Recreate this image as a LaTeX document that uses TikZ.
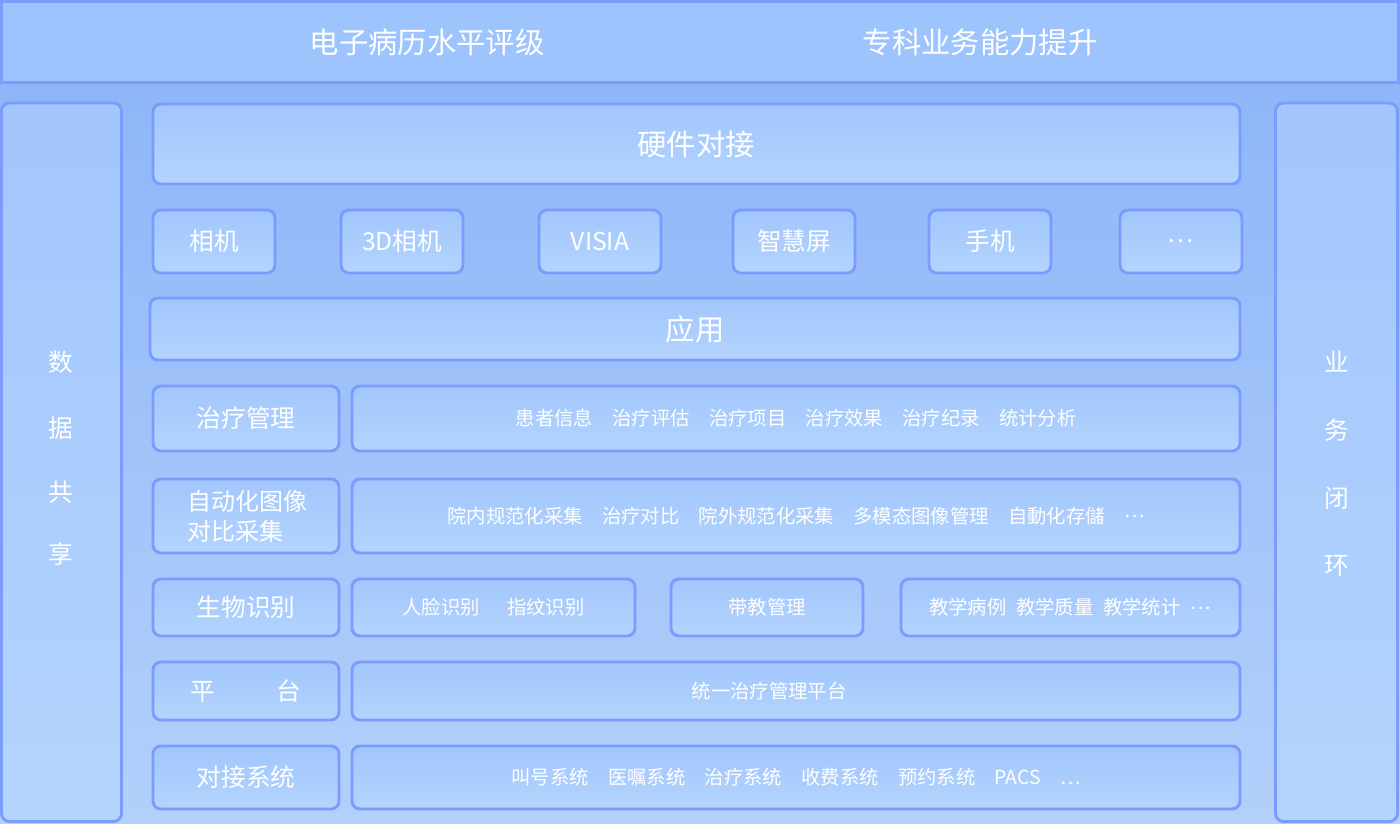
\documentclass[tikz,border=0pt]{standalone}
\usepackage{fontspec}
\setmainfont{Noto Sans CJK SC}
\definecolor{bgtop}{HTML}{8AB3F8}
\definecolor{bgbot}{HTML}{B3D0FB}
\definecolor{edgeblue}{HTML}{7B9BFD}
\definecolor{boxtop}{HTML}{A2C6FD}
\definecolor{boxbot}{HTML}{B3D4FD}
\definecolor{bannerblue}{HTML}{9EC4FD}
\newcommand{\mdots}{\raisebox{0.3em}{…}}
\begin{document}
\begin{tikzpicture}[x=0.75pt,y=-0.75pt,
    box/.style={draw=edgeblue,line width=2.2pt,rounded corners=6pt,top color=boxtop,bottom color=boxbot},
    big/.style={text=white,font=\fontsize{22}{26}\selectfont},
    mid/.style={text=white,font=\fontsize{18.5}{22}\selectfont},
    small/.style={text=white,font=\fontsize{14.5}{17}\selectfont}]

    \useasboundingbox (0,0) rectangle (1400,824);
    \fill[top color=bgtop,bottom color=bgbot] (0,0) rectangle (1400,824);

    % banner
    \draw[draw=edgeblue,line width=2.2pt,fill=bannerblue] (1.5,1.5) rectangle (1398.5,82.5);
    \node[big] (emr) at (427,42) {电子病历水平评级};
    \node[big] (spec) at (980,42) {专科业务能力提升};

    % side columns
    \draw[box] (1.5,103) rectangle (121.5,821.5);
    \draw[box] (1275.5,103) rectangle (1397.5,821.5);
    \foreach \y/\t/\n in {362/数/sa, 428/据/sb, 492/共/sc, 554/享/sd}
    \node[mid] (\n) at (61,\y) {\t};
    \foreach \y/\t/\n in {362/业/ya, 430/务/yb, 498/闭/yc, 566/环/yd}
    \node[mid] (\n) at (1337,\y) {\t};

    % hardware
    \draw[box] (153,104) rectangle (1240,184);
    \node[big] (hw) at (696,144) {硬件对接};
    \foreach \x/\t/\n in {214/相机/cam, 402/3D相机/cam3d, 600/VISIA/visia, 794/智慧屏/screen, 990/手机/phone, 1181/…/more}
    {
      \draw[box] (\x-61,210) rectangle (\x+61,273);
      \node[mid] (\n) at (\x,241.5) {\t};
    }

    % application
    \draw[box] (150,298) rectangle (1240,360);
    \node[big] (app) at (695,329) {应用};

    % left labels
    \draw[box] (153,386) rectangle (339,451);
    \node[mid] (treat) at (246,418.5) {治疗管理};
    \draw[box] (153,479) rectangle (339,553);
    \node[mid,align=left,anchor=west,font=\fontsize{18}{22.5}\selectfont] (auto) at (183,516) {自动化图像\\对比采集};
    \draw[box] (153,579) rectangle (339,636);
    \node[mid] (bio) at (246,607.5) {生物识别};
    \draw[box] (153,662) rectangle (339,720);
    \node[mid] (plat) at (246,691) {平\hspace{2.5em}台};
    \draw[box] (153,746) rectangle (339,809);
    \node[mid] (dock) at (246,777.5) {对接系统};

    % right contents
    \draw[box] (352,386) rectangle (1240,451);
    \node[small] (treatc) at (796,418.5) {患者信息\hspace{1em}治疗评估\hspace{1em}治疗项目\hspace{1em}治疗效果\hspace{1em}治疗纪录\hspace{1em}统计分析};
    \draw[box] (352,479) rectangle (1240,553);
    \node[small] (autoc) at (796,516) {院内规范化采集\hspace{1em}治疗对比\hspace{1em}院外规范化采集\hspace{1em}多模态图像管理\hspace{1em}自動化存儲\hspace{1em}\mdots};
    \draw[box] (352,579) rectangle (635,636);
    \node[small] (bioc) at (493.5,607.5) {人脸识别\hspace{1.4em}指纹识别};
    \draw[box] (671,579) rectangle (863,636);
    \node[small] (teach) at (767,607.5) {带教管理};
    \draw[box] (901,579) rectangle (1240,636);
    \node[small] (teachc) at (1070,607.5) {教学病例\hspace{0.5em}教学质量\hspace{0.5em}教学统计\hspace{0.5em}\mdots};
    \draw[box] (352,662) rectangle (1240,720);
    \node[small] (platc) at (769,691) {统一治疗管理平台};
    \draw[box] (352,746) rectangle (1240,809);
    \node[small] (dockc) at (796,777.5) {叫号系统\hspace{1em}医嘱系统\hspace{1em}治疗系统\hspace{1em}收费系统\hspace{1em}预约系统\hspace{1em}PACS\hspace{1em}…};

  \end{tikzpicture}
\end{document}
